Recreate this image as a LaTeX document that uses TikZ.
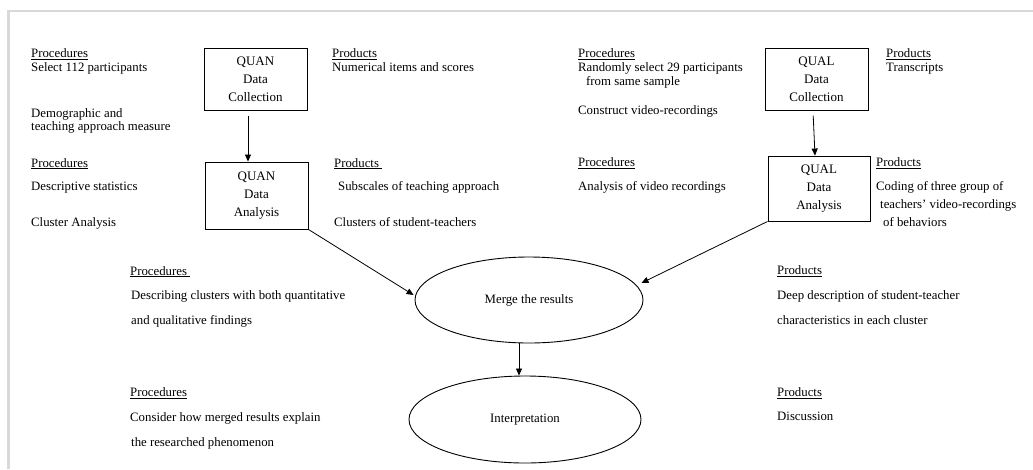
\documentclass[tikz,border=0pt]{standalone}
\usepackage{fontspec}
\setmainfont{Liberation Serif}
\usetikzlibrary{arrows.meta,shapes.geometric}
\begin{document}
\begin{tikzpicture}[x=1pt,y=-1pt,
  txt/.style={anchor=base west, inner sep=0pt, font=\fontsize{12.8}{14}\selectfont},
  box/.style={draw, line width=0.9pt, minimum width=103pt, inner sep=0pt, align=center},
  oval/.style={draw, ellipse, line width=0.9pt, inner sep=0pt, font=\fontsize{12.8}{14}\selectfont},
  conn/.style={line width=0.8pt, -{Triangle[length=7pt,width=6pt]}},
  frame/.style={draw=black!15, line width=2.5pt}]
\useasboundingbox (0,0) rectangle (1033,469);
\coordinate (f1) at (8.5,469);
\coordinate (f2) at (8.5,11);
\coordinate (f3) at (1033,11);
\draw[frame] (f1) -- (f2) -- (f3);

% QUAN side
\node[txt] (p1) at (31,57.5) {\underline{Procedures}};
\node[txt] (p1a) at (31,71.5) {Select 112 participants};
\node[txt] (p1b) at (31,117) {Demographic and};
\node[txt] (p1c) at (31,130.5) {teaching approach measure};
\node[box, minimum height=62.5pt, font=\fontsize{13}{18}\selectfont] (qn1) at (255.5,79.4) {QUAN\\Data\\Collection};
\node[txt] (r1) at (332,57.5) {\underline{Products}};
\node[txt] (r1a) at (332,71.5) {Numerical items and scores};

\node[txt] (p2) at (31,167) {\underline{Procedures}};
\node[txt] (p2a) at (31,190) {Descriptive statistics};
\node[txt] (p2b) at (31,226.5) {Cluster Analysis};
\node[box, minimum height=67pt, font=\fontsize{13}{18}\selectfont] (qn2) at (256.5,195.5) {QUAN\\Data\\Analysis};
\node[txt] (r2) at (334,167) {\underline{Products\ }};
\node[txt] (r2a) at (338,190) {Subscales of teaching approach};
\node[txt] (r2b) at (334,226.5) {Clusters of student-teachers};

% QUAL side
\node[txt] (p3) at (578,57.5) {\underline{Procedures}};
\node[txt] (p3a) at (578,71.5) {Randomly select 29 participants};
\node[txt] (p3b) at (586,85.5) {from same sample};
\node[txt] (p3c) at (578,114) {Construct video-recordings};
\node[box, minimum height=62.5pt, font=\fontsize{13}{18}\selectfont] (ql1) at (816.5,79.4) {QUAL\\Data\\Collection};
\node[txt] (r3) at (886,57.5) {\underline{Products}};
\node[txt] (r3a) at (886,71.5) {Transcripts};

\node[txt] (p4) at (578,166.5) {\underline{Procedures}};
\node[txt] (p4a) at (578,190) {Analysis of video recordings};
\node[box, minimum width=102pt, minimum height=65pt, font=\fontsize{13}{18}\selectfont] (ql2) at (819,188.5) {QUAL\\Data\\Analysis};
\node[txt] (r4) at (876,166.5) {\underline{Products}};
\node[txt] (r4a) at (876,190) {Coding of three group of};
\node[txt] (r4b) at (880,208) {teachers' video-recordings};
\node[txt] (r4c) at (883,226.5) {of behaviors};

% merge
\node[oval, minimum width=228pt, minimum height=86pt] (merge) at (529,300) {Merge the results};
\node[txt] (p5) at (130,275) {\underline{Procedures\ }};
\node[txt] (p5a) at (131,299.5) {Describing clusters with both quantitative};
\node[txt] (p5b) at (131,324.5) {and qualitative findings};
\node[txt] (r5) at (777,274.5) {\underline{Products}};
\node[txt] (r5a) at (777,299.5) {Deep description of student-teacher};
\node[txt] (r5b) at (777,324) {characteristics in each cluster};

% interpretation
\node[oval, minimum width=232pt, minimum height=87pt] (interp) at (525,419.5) {Interpretation};
\node[txt] (p6) at (130,396.5) {\underline{Procedures}};
\node[txt] (p6a) at (130,421) {Consider how merged results explain};
\node[txt] (p6b) at (131,446) {the researched phenomenon};
\node[txt] (r6) at (777,396.5) {\underline{Products}};
\node[txt] (r6a) at (777,420.5) {Discussion};

% connectors
\draw[conn, shorten <=4.5pt] ([xshift=-7.5pt]qn1.south) -- ([xshift=-8.5pt]qn2.north);
\draw[conn, shorten <=4.5pt] ([xshift=-3.5pt]ql1.south) -- ([xshift=-4pt]ql2.north);
\draw[conn] (qn2.south east) -- ([xshift=-1pt,yshift=5pt]merge.west);
\draw[conn] (ql2.south west) -- ([xshift=-2pt,yshift=17pt]merge.east);
\draw[conn] ([xshift=-10pt]merge.south) -- ([xshift=-6pt]interp.north);
\end{tikzpicture}
\end{document}
